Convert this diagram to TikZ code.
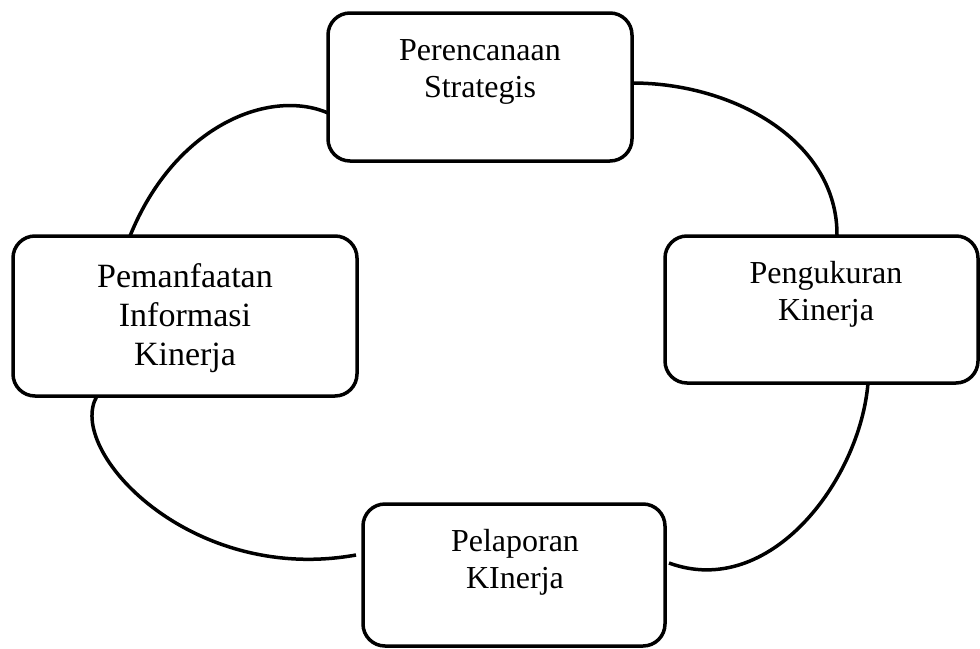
\documentclass[tikz,border=0pt]{standalone}
\usepackage{fontspec}
\setmainfont{Liberation Serif}
\begin{document}
\begin{tikzpicture}[x=1pt,y=-1pt,
  box/.style={draw=black, line width=3.5pt, rounded corners=22pt, inner sep=0pt, outer sep=0pt, fill=white},
  lbl/.style={anchor=base, align=center, inner sep=0pt, font=\fontsize{32}{36.8}\selectfont},
  lblbig/.style={anchor=base, align=center, inner sep=0pt, font=\fontsize{34}{39}\selectfont},
  link/.style={draw=black, line width=3.5pt}]
\useasboundingbox (0,0) rectangle (980,648);
\fill[white] (0,0) rectangle (980,648);
% boxes
\node[box, minimum width=304pt, minimum height=148pt] (A) at (480,87) {};
\node[box, minimum width=313pt, minimum height=147pt] (B) at (821.5,309.5) {};
\node[box, minimum width=302pt, minimum height=142pt] (C) at (514,575) {};
\node[box, minimum width=344pt, minimum height=160pt] (D) at (185,316) {};
% texts (base anchor = baseline of the last line)
\node[lbl] (tA) at (480,97) {Perencanaan\\Strategis};
\node[lbl] (tB) at (826,320) {Pengukuran\\Kinerja};
\node[lbl] (tC) at (515,588) {Pelaporan\\KInerja};
\node[lblbig] (tD) at (185,365) {Pemanfaatan\\Informasi\\Kinerja};
% connectors
\draw[link] ([yshift=-26pt]A.west) .. controls +(-58,-25) and +(45,-111) .. ([xshift=-55pt]D.north);
\draw[link] ([yshift=4pt]A.east) .. controls +(103,0) and +(1,-94) .. ([xshift=15.5pt]B.north);
\draw[link] ([xshift=46.5pt]B.south) .. controls +(-8,97) and +(101,37) .. ([xshift=4pt,yshift=12pt]C.east);
\draw[link] ([xshift=-88pt]D.south) .. controls +(-32,54) and +(-166,30) .. ([xshift=-7pt,yshift=20pt]C.west);
\end{tikzpicture}
\end{document}
